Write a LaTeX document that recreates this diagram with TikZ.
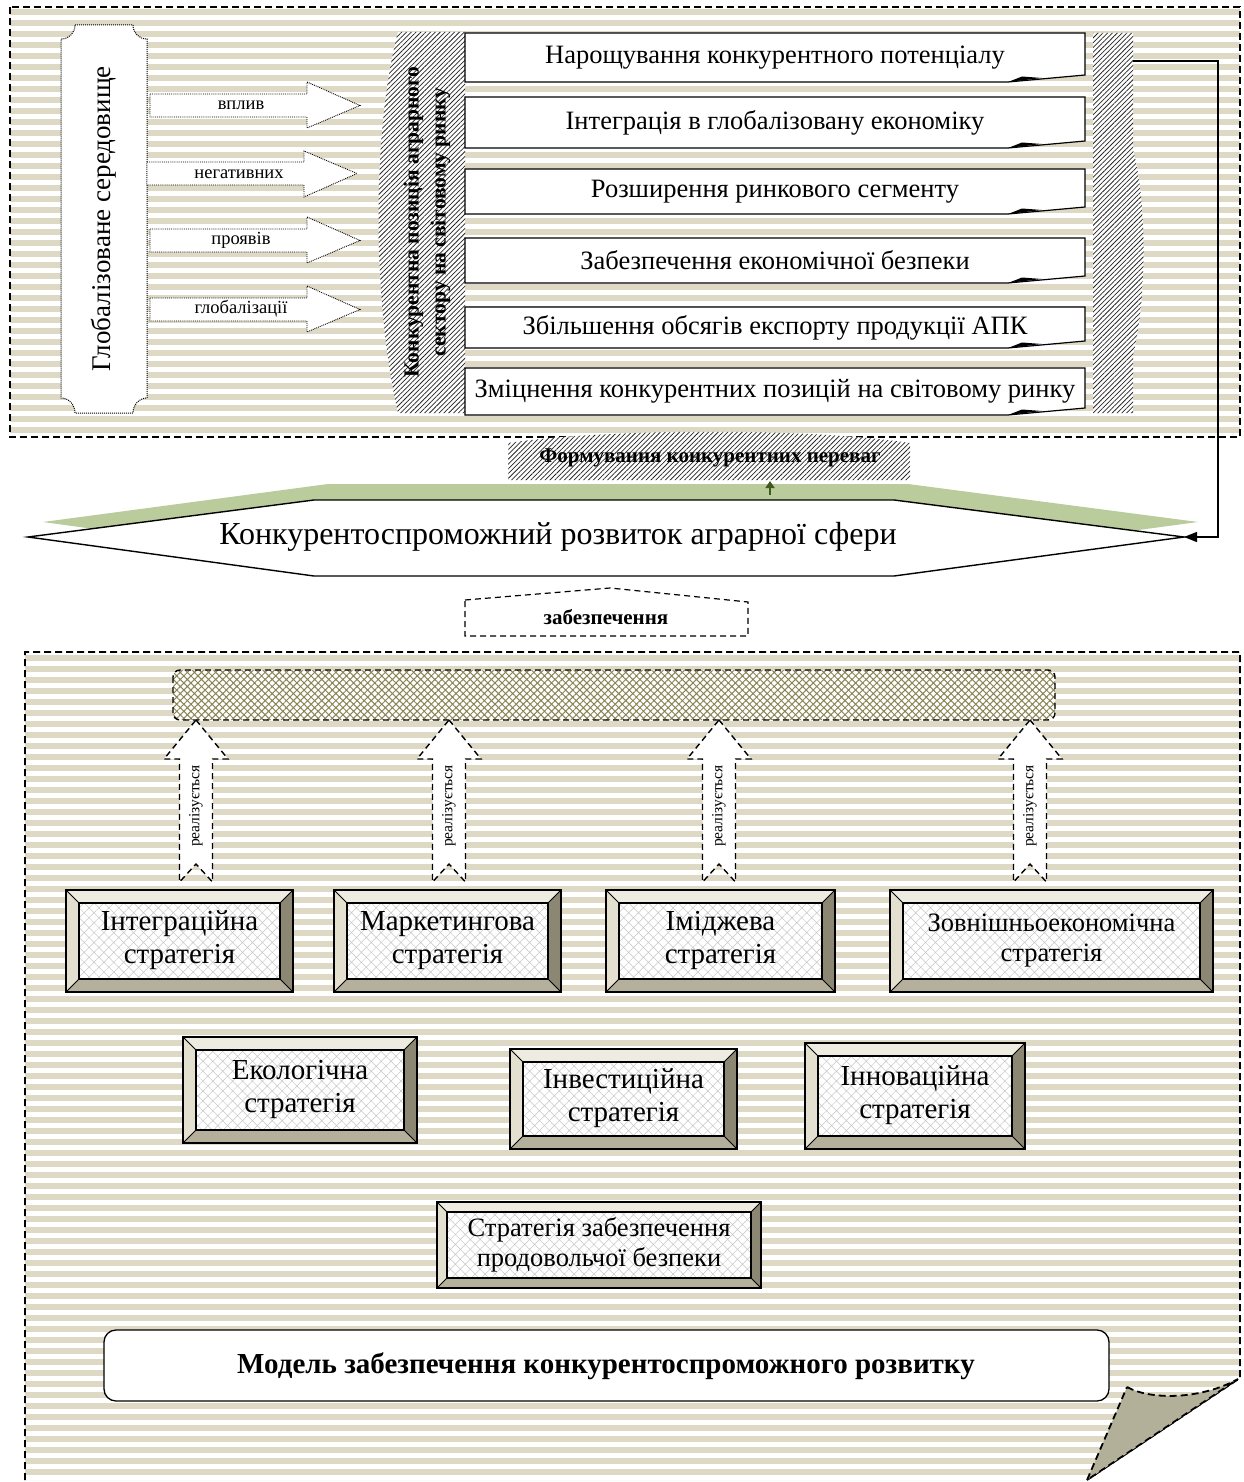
\documentclass[tikz,border=0pt]{standalone}
\usepackage{fontspec}
\setmainfont{Liberation Serif}
\usetikzlibrary{patterns.meta,arrows.meta,calc}
\definecolor{stripe}{HTML}{DDD9C4}
\definecolor{bevT}{HTML}{EEECE1}
\definecolor{bevL}{HTML}{E4E0D0}
\definecolor{bevB}{HTML}{B4B09B}
\definecolor{bevR}{HTML}{8B8772}
\definecolor{foldc}{HTML}{B3B09A}
\definecolor{shgreen}{HTML}{BACB9C}
\definecolor{dgreen}{HTML}{3F5A1E}
\definecolor{weave}{HTML}{8C8455}
\newcommand\fs[2]{\fontsize{#1}{#2}\selectfont}
\newcommand\bevbox[8]{%
 \fill[bevT] (#1,#2) -- (#3,#2) -- ({#3-#5},{#2+#5}) -- ({#1+#5},{#2+#5}) -- cycle;
 \fill[bevL] (#1,#2) -- ({#1+#5},{#2+#5}) -- ({#1+#5},{#4-#5}) -- (#1,#4) -- cycle;
 \fill[bevB] (#1,#4) -- ({#1+#5},{#4-#5}) -- ({#3-#5},{#4-#5}) -- (#3,#4) -- cycle;
 \fill[bevR] (#3,#2) -- (#3,#4) -- ({#3-#5},{#4-#5}) -- ({#3-#5},{#2+#5}) -- cycle;
 \fill[white] ({#1+#5},{#2+#5}) rectangle ({#3-#5},{#4-#5});
 \fill[pattern={Hatch[angle=45,distance=7pt,line width=0.5pt]},pattern color=black!22] ({#1+#5},{#2+#5}) rectangle ({#3-#5},{#4-#5});
 \draw[line width=1.3pt] (#1,#2) rectangle (#3,#4);
 \draw[line width=1.1pt] ({#1+#5},{#2+#5}) rectangle ({#3-#5},{#4-#5});
 \draw[line width=0.9pt] (#1,#2) -- ({#1+#5},{#2+#5}) (#3,#2) -- ({#3-#5},{#2+#5}) (#1,#4) -- ({#1+#5},{#4-#5}) (#3,#4) -- ({#3-#5},{#4-#5});
 \node[align=center,font={#7},inner sep=0pt] (#6) at ({(#1+#3)/2},{(#2+#4)/2-0.5}) {#8};
}
\newcommand\topbox[4]{%
 \draw[line width=1.2pt, fill=white] (465,#1) -- (1085,#1) -- (1085,{#2-7}) -- (1008,#2) -- (465,#2) -- cycle;
 \fill[black] (1008,#2) -- (1022,{#2-5.5}) -- (1042,{#2-4}) -- cycle;
 \node[font=\fs{26.5}{30},inner sep=0pt] (#3) at (775,{(#1+#2)/2}) {#4};
}
\newcommand\harrow[7]{% x0, shaft top, shaft bottom, head base x, head top, head bottom, tip x
 \draw[densely dotted,line width=0.9pt,fill=white] (#1,#2) -- (#4,#2) -- (#4,#5) -- (#7,{(#2+#3)/2}) -- (#4,#6) -- (#4,#3) -- (#1,#3) -- cycle;
}
\newcommand\uarrow[2]{% center x, name
 \draw[dashed,dash pattern=on 6pt off 4pt,line width=1.4pt,fill=white] (#1,720) -- ({#1+32},759) -- ({#1+16.5},759) -- ({#1+16.5},882) -- (#1,864) -- ({#1-16.5},882) -- ({#1-16.5},759) -- ({#1-32},759) -- cycle;
 \node[rotate=90,font=\fs{15.5}{17},inner sep=0pt] (#2) at (#1,806) {реалізується};
}
\tikzset{
 frame/.style={dashed,dash pattern=on 7pt off 4pt,line width=1.8pt},
 hatchbox/.style={dashed,dash pattern=on 4pt off 2.5pt,line width=1.3pt,preaction={fill=white},pattern={Lines[angle=45,distance=3.4pt,line width=0.75pt]},pattern color=black!85},
 albl/.style={font=\fs{18.5}{20},inner sep=0pt},
}
\begin{document}
\begin{tikzpicture}[x=1pt,y=-1pt]
\useasboundingbox (0,0) rectangle (1243,1482);
\fill[white] (0,0) rectangle (1243,1482);
% ---------- top frame
\begin{scope}
\clip (10,7) rectangle (1240,437);
\foreach \k in {0,...,40} \fill[stripe] (0,{9+\k*11}) rectangle (1243,{15+\k*11});
\end{scope}
\draw[frame] (10,7) rectangle (1240,437);
% Глобалізоване середовище
\draw[densely dotted,line width=1pt,fill=white] (75,25) -- (133,25) .. controls (133,33) and (139,39) .. (147,39) -- (147,398) .. controls (139,398) and (133,405) .. (133,413) -- (75,413) .. controls (75,405) and (69,398) .. (61,398) -- (61,39) .. controls (69,39) and (75,33) .. (75,25) -- cycle;
\node[rotate=90,font=\fs{27}{30}] (glob) at (104,219) {Глобалізоване середовище};
% arrows
\harrow{150}{94}{117}{307}{82}{128}{360}
\harrow{147}{162}{185}{304}{151}{197}{357}
\harrow{150}{229}{252}{307}{217}{263}{360}
\harrow{150}{298}{321}{307}{286}{332}{360}
\node[albl] (a1) at (241,105) {вплив};
\node[albl] (a2) at (239,174) {негативних};
\node[albl] (a3) at (241,240) {проявів};
\node[albl] (a4) at (241,309) {глобалізації};
% left hatched banner
\path[hatchbox] (398,32) -- (465,32) -- (465,413) -- (398,413) .. controls (372,300) and (372,130) .. (398,32) -- cycle;
\node[rotate=90,align=center,font=\bfseries\fs{21.5}{27},inner sep=0pt] (pos) at (427,222) {Конкурентна позиція аграрного\\сектору на світовому ринку};
% right boxes
\topbox{33}{82}{t1}{Нарощування конкурентного потенціалу}
\topbox{97}{148}{t2}{Інтеграція в глобалізовану економіку}
\topbox{169}{214}{t3}{Розширення ринкового сегменту}
\topbox{238}{283}{t4}{Забезпечення економічної безпеки}
\topbox{307}{348}{t5}{Збільшення обсягів експорту продукції АПК}
\topbox{368}{415}{t6}{Зміцнення конкурентних позицій на світовому ринку}
% right hatched strip
\path[hatchbox] (1093,33) -- (1133,33) -- (1133,150) .. controls (1147,200) and (1147,300) .. (1133,355) -- (1133,413) -- (1093,413) -- cycle;
\coordinate (stripE) at (1133,61);
% ---------- hexagon
\fill[shgreen] (43,522) -- (328,484) -- (908,484) -- (1198,522) -- (908,561) -- (328,561) -- cycle;
\draw[line width=1.4pt,fill=white] (28,537) -- (314,500) -- (894,500) -- (1184,537) -- (894,576) -- (314,576) -- cycle;
\node[font=\fs{32}{36}] (hex) at (558,537) {Конкурентоспроможний розвиток аграрної сфери};
\coordinate (hexE) at (1184,537);
\coordinate (hexN) at (770,495);
% Формування конкурентних переваг
\path[hatchbox] (508,443) .. controls (610,428) and (810,428) .. (910,443) -- (910,480) -- (508,480) -- cycle;
\node[font=\bfseries\fs{21}{23}] (form) at (710,458) {Формування конкурентних переваг};
\coordinate (formS) at (770,481);
\draw[dgreen,line width=2pt,-{Triangle[length=7pt,width=9pt]}] (hexN) -- (formS);
% connector
\draw[line width=1.4pt,-{Triangle[length=13pt,width=10pt]}] (stripE) -- ++(85,0) |- (hexE);
% забезпечення
\draw[dashed,dash pattern=on 6pt off 4pt,line width=1.2pt,fill=white] (465,600) -- (610,588) -- (748,602) -- (748,636) -- (465,636) -- cycle;
\node[font=\bfseries\fs{21}{23}] (zab) at (606,617) {забезпечення};
% ---------- bottom frame
\begin{scope}
\clip (25,652) -- (1240,652) -- (1240,1378) -- (1087,1480) -- (25,1480) -- cycle;
\foreach \k in {0,...,76} \fill[stripe] (0,{655+\k*11}) rectangle (1243,{661+\k*11});
\end{scope}
\draw[frame] (25,1480) -- (25,652) -- (1240,652) -- (1240,1378) -- (1087,1480);
\draw[frame,fill=foldc] (1127,1387) .. controls (1150,1400) and (1200,1400) .. (1238,1379) -- (1087,1480) -- cycle;
% pattern bar
\path[rounded corners=7pt,dashed,dash pattern=on 6pt off 4pt,line width=1.4pt,draw,preaction={fill=white},pattern={Hatch[angle=45,distance=5pt,line width=1pt]},pattern color=weave] (173,670) rectangle (1055,720);
% upward arrows
\uarrow{196}{r1}
\uarrow{449}{r2}
\uarrow{719}{r3}
\uarrow{1030}{r4}
% strategies
\bevbox{66}{890}{293}{992}{13}{s1}{\fs{29}{33}}{Інтеграційна\\стратегія}
\bevbox{334}{890}{561}{992}{13}{s2}{\fs{29}{33}}{Маркетингова\\стратегія}
\bevbox{606}{890}{835}{992}{13}{s3}{\fs{29}{33}}{Іміджева\\стратегія}
\bevbox{890}{890}{1213}{992}{13}{s4}{\fs{26.5}{30}}{Зовнішньоекономічна\\стратегія}
\bevbox{183}{1037}{417}{1143}{13}{s5}{\fs{29}{33}}{Екологічна\\стратегія}
\bevbox{510}{1049}{737}{1149}{13}{s6}{\fs{29}{33}}{Інвестиційна\\стратегія}
\bevbox{805}{1043}{1025}{1149}{13}{s7}{\fs{29}{33}}{Інноваційна\\стратегія}
\bevbox{437}{1202}{761}{1288}{10}{s8}{\fs{26.5}{30}}{Стратегія забезпечення\\продовольчої безпеки}
% model box
\draw[line width=1.3pt,fill=white,rounded corners=12pt] (104,1330) rectangle (1109,1401);
\node[font=\bfseries\fs{29}{32}] (model) at (606,1366) {Модель забезпечення конкурентоспроможного розвитку};
\end{tikzpicture}
\end{document}
